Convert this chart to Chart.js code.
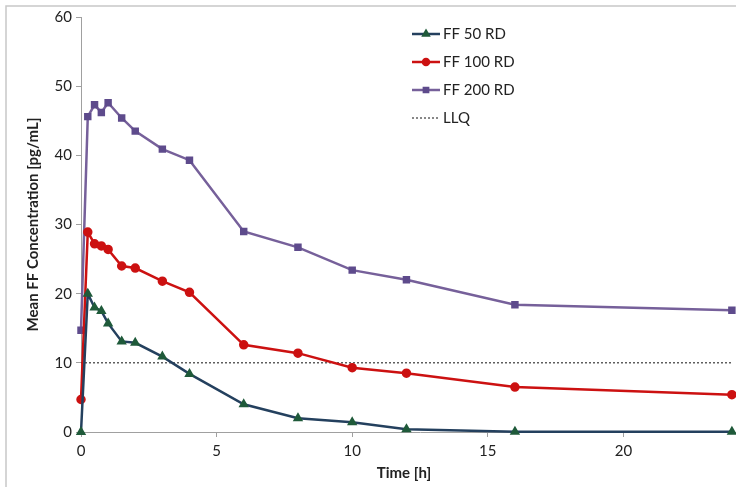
<!DOCTYPE html>
<html>
<head>
<meta charset="utf-8">
<script src="https://cdn.jsdelivr.net/npm/chart.js@4"></script>
<style>
  html, body { margin: 0; padding: 0; background: #fff; overflow: hidden; }
  /* the original picture is a crop: the axis runs on to 25 beyond the right edge */
  #wrap { width: 736px; height: 487px; position: relative; overflow: hidden; }
</style>
</head>
<body>
<div id="wrap"><canvas id="ffChart" width="770" height="487"></canvas></div>
<script>
// sampling times (h)
const times = [0, 0.25, 0.5, 0.75, 1, 1.5, 2, 3, 4, 6, 8, 10, 12, 16, 24];
// mean concentrations (pg/mL)
const ff50 = [0, 20.0, 18.0, 17.5, 15.7, 13.1, 12.9, 10.9, 8.4, 4.0, 2.0, 1.4, 0.4, 0.05, 0.05];
const ff100 = [4.7, 28.9, 27.2, 26.9, 26.4, 24.0, 23.7, 21.8, 20.2, 12.6, 11.4, 9.3, 8.5, 6.5, 5.4];
const ff200 = [14.7, 45.6, 47.3, 46.2, 47.6, 45.4, 43.5, 40.9, 39.3, 29.0, 26.7, 23.4, 22.0, 18.4, 17.6];
const llqValue = 10;
const llqRange = [0, 24];

const toXY = vals => vals.map((v, i) => ({ x: times[i], y: v }));
const FONT = "Lato, 'Open Sans', sans-serif";

Chart.defaults.font.family = FONT;
Chart.defaults.color = '#222';

// legend drawn inside the plot, like the Excel original
const boxLegend = {
    id: 'boxLegend',
    afterDraw(chart) {
        const ctx = chart.ctx;
        const x0 = 412, x1 = 440, rowY = [34, 62, 90, 118];
        ctx.save();
        chart.data.datasets.forEach((ds, i) => {
            const y = rowY[i];
            ctx.beginPath();
            ctx.strokeStyle = ds.borderColor;
            ctx.lineWidth = ds.borderWidth;
            ctx.setLineDash(ds.borderDash || []);
            ctx.moveTo(x0, y);
            ctx.lineTo(x1, y);
            ctx.stroke();
            ctx.setLineDash([]);
            if (ds.pointRadius > 0) {
                ctx.fillStyle = ds.pointBackgroundColor;
                ctx.strokeStyle = ds.pointBorderColor;
                Chart.helpers.drawPoint(ctx, {
                    pointStyle: ds.pointStyle,
                    radius: 3,
                    borderWidth: 1
                }, (x0 + x1) / 2, y);
            }
            ctx.fillStyle = '#222';
            ctx.font = '15px ' + FONT;
            ctx.textBaseline = 'middle';
            ctx.fillText(ds.label, x1 + 3, y);
        });
        ctx.restore();
    }
};

// light frame around the chart area (Excel style)
const frame = {
    id: 'frame',
    beforeDraw(chart) {
        const ctx = chart.ctx;
        ctx.save();
        ctx.strokeStyle = '#c8c8c8';
        ctx.lineWidth = 1.5;
        ctx.strokeRect(6, 6, 740, 490);
        ctx.restore();
    }
};

const chart = new Chart(document.getElementById('ffChart'), {
    type: 'line',
    data: {
        datasets: [
            {
                label: 'FF 50 RD',
                data: toXY(ff50),
                borderColor: '#24405e',
                borderWidth: 2.5,
                pointStyle: 'triangle',
                pointRadius: 3.5,
                pointBackgroundColor: '#1f5a3a',
                pointBorderColor: '#1f5a3a',
                clip: false
            },
            {
                label: 'FF 100 RD',
                data: toXY(ff100),
                borderColor: '#cc1111',
                borderWidth: 2.5,
                pointStyle: 'circle',
                pointRadius: 3.5,
                pointBackgroundColor: '#cc1111',
                pointBorderColor: '#cc1111',
                clip: false
            },
            {
                label: 'FF 200 RD',
                data: toXY(ff200),
                borderColor: '#76609a',
                borderWidth: 2.5,
                pointStyle: 'rect',
                pointRadius: 3.5,
                pointBackgroundColor: '#5e4b8c',
                pointBorderColor: '#5e4b8c',
                clip: false
            },
            {
                label: 'LLQ',
                data: llqRange.map(x => ({ x: x, y: llqValue })),
                borderColor: '#111',
                borderWidth: 1,
                borderDash: [2, 2],
                pointRadius: 0
            }
        ]
    },
    options: {
        responsive: false,
        animation: false,
        layout: { padding: { top: 17, right: 11, left: 24, bottom: 6 } },
        plugins: {
            legend: { display: false },
            tooltip: { enabled: false }
        },
        scales: {
            x: {
                type: 'linear',
                min: 0,
                max: 25,
                afterFit: s => { s.height = 49; s.paddingRight = 0; s.paddingLeft = 0; },
                ticks: { stepSize: 5, font: { size: 15 }, color: '#222', padding: 5 },
                grid: { drawOnChartArea: false, tickLength: 5, color: '#a0a0a0' },
                border: { color: '#a0a0a0' },
                title: { display: false }
            },
            y: {
                min: 0,
                max: 60,
                afterFit: s => { s.width = 57; },
                ticks: { stepSize: 10, font: { size: 15 }, color: '#222', padding: 4 },
                grid: { drawOnChartArea: false, tickLength: 5, color: '#a0a0a0' },
                border: { color: '#a0a0a0' },
                title: { display: true, text: 'Mean FF Concentration [pg/mL]', font: { size: 15, weight: 'bold' }, color: '#222', padding: 0 }
            }
        }
    },
    plugins: [frame, boxLegend, {
        // x title centred on the visible part of the axis, as in the crop
        id: 'xTitle',
        afterDraw(chart) {
            const ctx = chart.ctx;
            ctx.save();
            ctx.font = 'bold 15px ' + FONT;
            ctx.fillStyle = '#222';
            ctx.textAlign = 'center';
            ctx.textBaseline = 'middle';
            ctx.fillText('Time [h]', 404, 473);
            ctx.restore();
        }
    }]
});
</script>
</body>
</html>
